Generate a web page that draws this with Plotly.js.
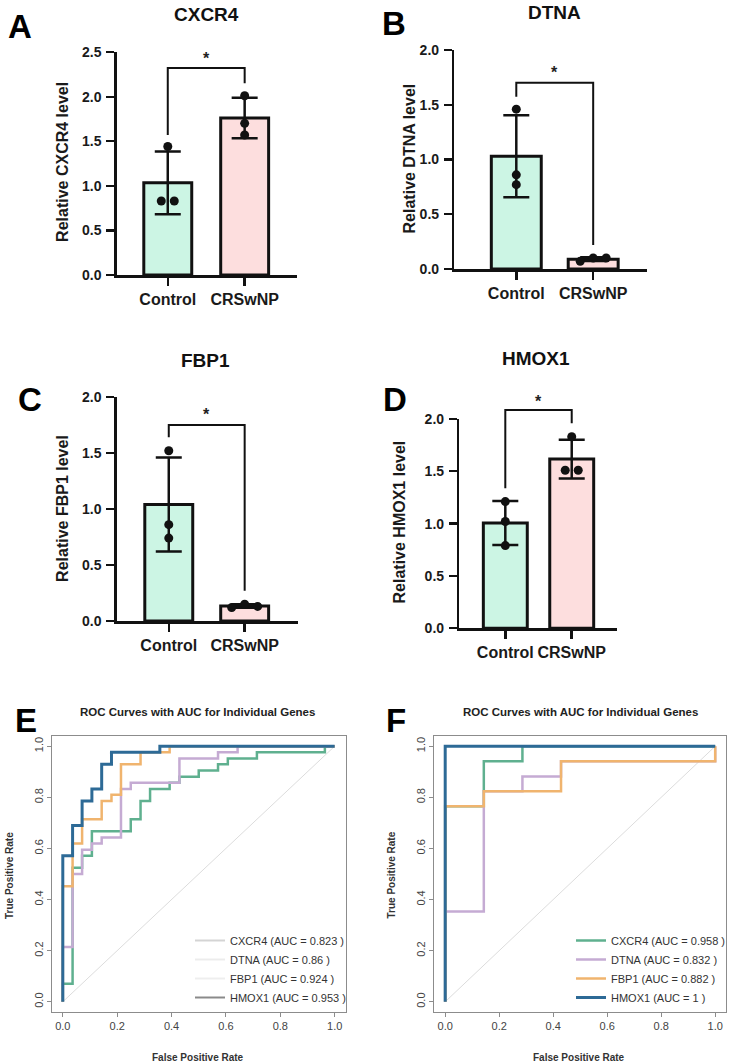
<!DOCTYPE html>
<html><head><meta charset="utf-8">
<script src="https://cdn.plot.ly/plotly-3.0.1.min.js"></script>
<style>html,body{margin:0;padding:0;background:#fff}#chart{width:731px;height:1064px}</style>
</head><body><div id="chart"></div>
<script>
// ================= DATA =================
const groups = ['Control', 'CRSwNP'];
const genes = ['CXCR4', 'DTNA', 'FBP1', 'HMOX1'];

// qPCR replicates (relative expression level)
const cxcr4Control = [1.44, 0.83, 0.83];
const cxcr4Crswnp  = [2.01, 1.70, 1.57];
const dtnaControl  = [1.46, 0.86, 0.77];
const dtnaCrswnp   = [0.07, 0.10, 0.10];
const fbp1Control  = [1.52, 0.86, 0.74];
const fbp1Crswnp   = [0.12, 0.15, 0.13];
const hmox1Control = [1.21, 1.02, 0.79];
const hmox1Crswnp  = [1.83, 1.51, 1.51];
const significance = ['*', '*', '*', '*'];

const yTicksCXCR4 = [0, 0.5, 1.0, 1.5, 2.0, 2.5];
const yTicksOther = [0, 0.5, 1.0, 1.5, 2.0];
const rocTicks = [0, 0.2, 0.4, 0.6, 0.8, 1.0];
const chanceLine = [0, 1];

// ROC, panel E
const eCxcr4Fpr = [0,0,0.036,0.036,0.071,0.071,0.107,0.107,0.25,0.25,0.286,0.286,0.321,0.321,0.393,0.393,0.429,0.429,0.5,0.5,0.571,0.571,0.607,0.607,0.714,0.714,0.964,0.964,1];
const eCxcr4Tpr = [0,0.071,0.071,0.524,0.524,0.571,0.571,0.667,0.667,0.714,0.714,0.786,0.786,0.833,0.833,0.857,0.857,0.881,0.881,0.905,0.905,0.929,0.929,0.952,0.952,0.976,0.976,1,1];
const eDtnaFpr  = [0,0,0.036,0.036,0.071,0.071,0.107,0.107,0.143,0.143,0.214,0.214,0.25,0.25,0.429,0.429,0.571,0.571,0.643,0.643,1];
const eDtnaTpr  = [0,0.214,0.214,0.5,0.5,0.595,0.595,0.619,0.619,0.643,0.643,0.833,0.833,0.857,0.857,0.952,0.952,0.976,0.976,1,1];
const eFbp1Fpr  = [0,0,0.036,0.036,0.071,0.071,0.143,0.143,0.179,0.179,0.214,0.214,0.286,0.286,0.393,0.393,1];
const eFbp1Tpr  = [0,0.452,0.452,0.619,0.619,0.714,0.714,0.786,0.786,0.81,0.81,0.929,0.929,0.976,0.976,1,1];
const eHmox1Fpr = [0,0,0.036,0.036,0.071,0.071,0.107,0.107,0.143,0.143,0.179,0.179,0.357,0.357,1];
const eHmox1Tpr = [0,0.571,0.571,0.69,0.69,0.786,0.786,0.833,0.833,0.929,0.929,0.976,0.976,1,1];
const aucE = [0.823, 0.86, 0.924, 0.953];

// ROC, panel F
const fCxcr4Fpr = [0,0,0.143,0.143,0.286,0.286,1];
const fCxcr4Tpr = [0,0.765,0.765,0.941,0.941,1,1];
const fDtnaFpr  = [0,0,0.143,0.143,0.286,0.286,0.429,0.429,1,1];
const fDtnaTpr  = [0,0.353,0.353,0.824,0.824,0.882,0.882,0.941,0.941,1];
const fFbp1Fpr  = [0,0,0.143,0.143,0.429,0.429,1,1];
const fFbp1Tpr  = [0,0.765,0.765,0.824,0.824,0.941,0.941,1];
const fHmox1Fpr = [0,0,1];
const fHmox1Tpr = [0,1,1];
const aucF = [0.958, 0.832, 0.882, 1];

// ================= STYLE / LAYOUT =================
const W = 731, H = 1064;
const fx = p => p / W;
const fy = p => 1 - p / H;
const FONT = 'Liberation Sans, Arial, Helvetica, sans-serif';
const barFill = ['#ccf5e4', '#fddede'];
const rocColors = ['#5fb08f', '#c5abd3', '#f0b46e', '#2d6a96'];
const rocLegendFaded = ['#d4d4d4', '#ececec', '#eeeeee', '#8a8a8a'];

const barPanels = [
  {ctrl: cxcr4Control, dis: cxcr4Crswnp, ticks: yTicksCXCR4, gene: genes[0], sig: significance[0],
   axisX: 117, endX: 297, c0: 168, spacing: 77, barW: 48, y0: 275, ppu: 89.2, yMax: 2.5,
   bracket: [1.57, 2.32, 2.15], star: 2.47, title: [207, 14], ytitle: [63, 162], letter: ['A', 20, 26]},
  {ctrl: dtnaControl, dis: dtnaCrswnp, ticks: yTicksOther, gene: genes[1], sig: significance[1],
   axisX: 455, endX: 648, c0: 517, spacing: 77, barW: 50, y0: 269, ppu: 109.5, yMax: 2.0,
   bracket: [1.574, 1.70, 0.219], star: 1.833, title: [555, 13], ytitle: [410, 158], letter: ['B', 395, 24]},
  {ctrl: fbp1Control, dis: fbp1Crswnp, ticks: yTicksOther, gene: genes[2], sig: significance[2],
   axisX: 117, endX: 298, c0: 169, spacing: 76, barW: 48, y0: 621, ppu: 112, yMax: 2.0,
   bracket: [1.64, 1.75, 0.27], star: 1.878, title: [206, 360], ytitle: [62, 508], letter: ['C', 30, 399]},
  {ctrl: hmox1Control, dis: hmox1Crswnp, ticks: yTicksOther, gene: genes[3], sig: significance[3],
   axisX: 460, endX: 618, c0: 506, spacing: 66.5, barW: 44, y0: 628.3, ppu: 104.7, yMax: 2.0,
   bracket: [1.337, 2.085, 1.958], star: 2.206, title: [537, 359], ytitle: [400, 522], letter: ['D', 396, 399]}
];

function mean(a) { return a.reduce((s, v) => s + v, 0) / a.length; }
function sd(a) { const m = mean(a); return Math.sqrt(a.reduce((s, v) => s + (v - m) * (v - m), 0) / (a.length - 1)); }
function swarmOffsets(vals, ppu, spacing) {
  const idx = vals.map((v, i) => i).sort((a, b) => vals[a] - vals[b]);
  const clusters = []; let cur = [idx[0]];
  for (let k = 1; k < idx.length; k++) {
    if ((vals[idx[k]] - vals[cur[cur.length - 1]]) * ppu < 8.5) cur.push(idx[k]);
    else { clusters.push(cur); cur = [idx[k]]; }
  }
  clusters.push(cur);
  const off = new Array(vals.length).fill(0);
  clusters.forEach(c => { c.sort((a, b) => a - b); c.forEach((i, j) => { off[i] = (j - (c.length - 1) / 2) * 13 / spacing; }); });
  return off;
}

const traces = [];
const layout = {
  width: W, height: H, margin: {l: 0, r: 0, t: 0, b: 0},
  paper_bgcolor: '#fff', plot_bgcolor: 'rgba(0,0,0,0)',
  font: {family: FONT, color: '#111'},
  showlegend: true, shapes: [], annotations: []
};

barPanels.forEach((p, k) => {
  const n = k + 1;
  const xa = n === 1 ? 'x' : 'x' + n, ya = n === 1 ? 'y' : 'y' + n;
  const r0 = -(p.c0 - p.axisX) / p.spacing;
  const r1 = r0 + (p.endX - p.axisX) / p.spacing;
  layout[n === 1 ? 'xaxis' : 'xaxis' + n] = {
    domain: [fx(p.axisX), fx(p.endX)], range: [r0, r1], anchor: ya,
    tickmode: 'array', tickvals: [0, 1], ticktext: groups, tickangle: 0,
    ticks: 'outside', ticklen: 8, tickwidth: 2.5, tickcolor: '#111',
    tickfont: {family: FONT, size: 16, weight: 'bold', color: '#1a1a1a'},
    showline: true, linecolor: '#111', linewidth: 2.5, showgrid: false, zeroline: false, fixedrange: true
  };
  layout[n === 1 ? 'yaxis' : 'yaxis' + n] = {
    domain: [fy(p.y0), fy(p.y0 - p.yMax * p.ppu)], range: [0, p.yMax], anchor: xa,
    tickmode: 'array', tickvals: p.ticks, ticktext: p.ticks.map(v => v.toFixed(1)),
    ticks: 'outside', ticklen: 8, tickwidth: 2.2, tickcolor: '#111', ticklabelstandoff: 2,
    tickfont: {family: FONT, size: 14, weight: 'bold', color: '#1a1a1a'},
    showline: true, linecolor: '#111', linewidth: 2.5, showgrid: false, zeroline: false, fixedrange: true
  };
  traces.push({
    type: 'bar', x: [0, 1], y: [mean(p.ctrl), mean(p.dis)], width: p.barW / p.spacing,
    xaxis: xa, yaxis: ya, showlegend: false, hoverinfo: 'skip',
    marker: {color: barFill, line: {color: '#111', width: 3}},
    error_y: {type: 'data', array: [sd(p.ctrl), sd(p.dis)], visible: true, color: '#111', thickness: 2.5, width: 13}
  });
  [p.ctrl, p.dis].forEach((vals, g) => {
    const off = swarmOffsets(vals, p.ppu, p.spacing);
    traces.push({
      type: 'scatter', mode: 'markers', x: vals.map((v, i) => g + off[i]), y: vals,
      xaxis: xa, yaxis: ya, showlegend: false, hoverinfo: 'skip', cliponaxis: false,
      marker: {color: '#111', size: 9}
    });
  });
  // bracket (paper coordinates computed from the panel's scale)
  const X = c => fx(p.axisX + (c - r0) * p.spacing);
  const Y = v => fy(p.y0 - v * p.ppu);
  layout.shapes.push({
    type: 'path', xref: 'paper', yref: 'paper',
    path: `M ${X(0)},${Y(p.bracket[0])} L ${X(0)},${Y(p.bracket[1])} L ${X(1)},${Y(p.bracket[1])} L ${X(1)},${Y(p.bracket[2])}`,
    line: {color: '#111', width: 2}
  });
  layout.annotations.push(
    {xref: 'paper', yref: 'paper', x: (X(0) + X(1)) / 2, y: Y(p.star), yshift: -4, text: p.sig, showarrow: false,
     font: {family: FONT, size: 16, weight: 'bold', color: '#222'}, xanchor: 'center', yanchor: 'middle'},
    {xref: 'paper', yref: 'paper', x: fx(p.title[0]), y: fy(p.title[1]), text: p.gene, showarrow: false,
     font: {family: FONT, size: 19, weight: 'bold', color: '#111'}, xanchor: 'center', yanchor: 'middle'},
    {xref: 'paper', yref: 'paper', x: fx(p.ytitle[0]), y: fy(p.ytitle[1]), text: 'Relative ' + p.gene + ' level',
     textangle: -90, showarrow: false, font: {family: FONT, size: 16, weight: 'bold', color: '#1a1a1a'},
     xanchor: 'center', yanchor: 'middle'},
    {xref: 'paper', yref: 'paper', x: fx(p.letter[1]), y: fy(p.letter[2]), text: p.letter[0], showarrow: false,
     font: {family: FONT, size: 33, weight: 'bold', color: '#000'}, xanchor: 'center', yanchor: 'middle'}
  );
});

// ROC panels
const rocPanels = [
  {n: 5, left: 52, right: 346, top: 736, bottom: 1012, curves: [[eCxcr4Fpr, eCxcr4Tpr], [eDtnaFpr, eDtnaTpr], [eFbp1Fpr, eFbp1Tpr], [eHmox1Fpr, eHmox1Tpr]],
   auc: aucE, legend: 'legend', fadedLegend: true, title: [198, 712], xtitle: [198, 1057], ytitle: [9, 875], letter: ['E', 26, 720]},
  {n: 6, left: 435, right: 727, top: 736, bottom: 1012, curves: [[fCxcr4Fpr, fCxcr4Tpr], [fDtnaFpr, fDtnaTpr], [fFbp1Fpr, fFbp1Tpr], [fHmox1Fpr, fHmox1Tpr]],
   auc: aucF, legend: 'legend2', fadedLegend: false, title: [581, 712], xtitle: [580, 1057], ytitle: [392, 875], letter: ['F', 397, 720]}
];

rocPanels.forEach(r => {
  const xa = 'x' + r.n, ya = 'y' + r.n;
  const axisCommon = {
    range: [-0.04, 1.04], tickmode: 'array', tickvals: rocTicks, ticktext: rocTicks.map(v => v.toFixed(1)),
    ticks: 'outside', ticklen: 4, tickwidth: 1, tickcolor: '#8c8c8c',
    tickfont: {family: FONT, size: 11, color: '#444'},
    showline: true, mirror: true, linecolor: '#8c8c8c', linewidth: 1,
    showgrid: false, zeroline: false, fixedrange: true
  };
  layout['xaxis' + r.n] = Object.assign({}, axisCommon, {domain: [fx(r.left), fx(r.right)], anchor: ya});
  layout['yaxis' + r.n] = Object.assign({}, axisCommon, {domain: [fy(r.bottom), fy(r.top)], anchor: xa, tickangle: -90});
  traces.push({type: 'scatter', mode: 'lines', x: chanceLine, y: chanceLine, xaxis: xa, yaxis: ya,
    showlegend: false, hoverinfo: 'skip', line: {color: '#dcdcdc', width: 1}});
  r.curves.forEach((c, i) => {
    const label = genes[i] + ' (AUC = ' + r.auc[i] + ' )';
    traces.push({type: 'scatter', mode: 'lines', x: c[0], y: c[1], xaxis: xa, yaxis: ya, hoverinfo: 'skip',
      line: {color: rocColors[i], width: i === 3 ? 3 : 2.5},
      name: label, legend: r.legend, showlegend: !r.fadedLegend});
  });
  if (r.fadedLegend) {
    r.curves.forEach((c, i) => {
      traces.push({type: 'scatter', mode: 'lines', x: [null], y: [null], xaxis: xa, yaxis: ya, hoverinfo: 'skip',
        line: {color: rocLegendFaded[i], width: 2}, name: genes[i] + ' (AUC = ' + r.auc[i] + ' )', legend: r.legend});
    });
  }
  layout[r.legend] = {
    x: fx(r.n === 5 ? 190 : 572), y: fy(1012), xanchor: 'left', yanchor: 'bottom',
    bgcolor: 'rgba(0,0,0,0)', borderwidth: 0, itemwidth: 30, traceorder: 'normal',
    font: {family: FONT, size: 11, color: '#333'}
  };
  layout.annotations.push(
    {xref: 'paper', yref: 'paper', x: fx(r.title[0]), y: fy(r.title[1]), text: 'ROC Curves with AUC for Individual Genes',
     showarrow: false, font: {family: FONT, size: 11.5, weight: 'bold', color: '#222'}, xanchor: 'center', yanchor: 'middle'},
    {xref: 'paper', yref: 'paper', x: fx(r.xtitle[0]), y: fy(r.xtitle[1]), text: 'False Positive Rate',
     showarrow: false, font: {family: FONT, size: 10, weight: 'bold', color: '#333'}, xanchor: 'center', yanchor: 'middle'},
    {xref: 'paper', yref: 'paper', x: fx(r.ytitle[0]), y: fy(r.ytitle[1]), text: 'True Positive Rate', textangle: -90,
     showarrow: false, font: {family: FONT, size: 10, weight: 'bold', color: '#333'}, xanchor: 'center', yanchor: 'middle'},
    {xref: 'paper', yref: 'paper', x: fx(r.letter[1]), y: fy(r.letter[2]), text: r.letter[0], showarrow: false,
     font: {family: FONT, size: 33, weight: 'bold', color: '#000'}, xanchor: 'center', yanchor: 'middle'}
  );
});

Plotly.newPlot('chart', traces, layout, {displayModeBar: false, staticPlot: true});
</script>
</body></html>
